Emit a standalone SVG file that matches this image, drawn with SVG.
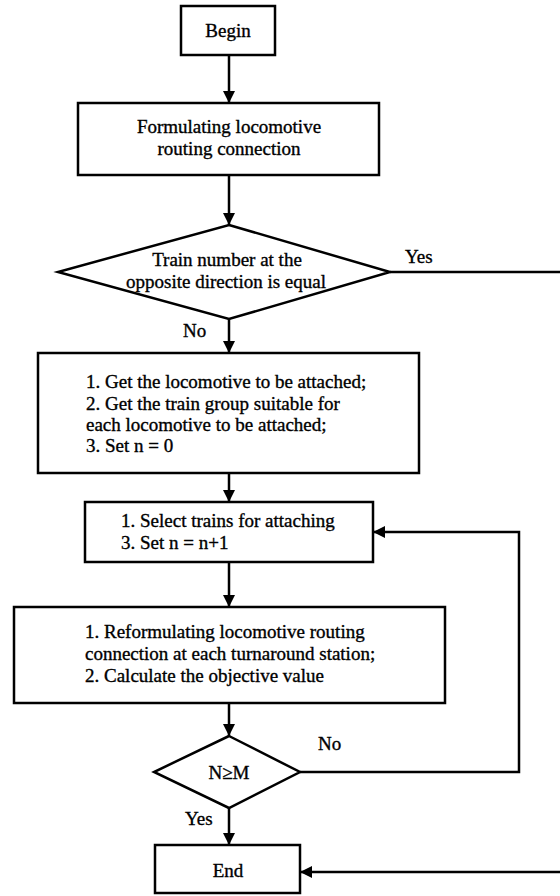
<svg xmlns="http://www.w3.org/2000/svg" width="560" height="896" viewBox="0 0 560 896">
<defs>
<marker id="ah" markerUnits="userSpaceOnUse" markerWidth="12" markerHeight="12" viewBox="0 0 12 12" refX="12" refY="6" orient="auto">
<path d="M0,0 L12,6 L0,12 Z" fill="#000"/>
</marker>
</defs>
<style>
.n{fill:#fff;stroke:#000;stroke-width:2.5}
.c{fill:none;stroke:#000;stroke-width:2.5}
.a{marker-end:url(#ah)}
text{font-family:"Liberation Serif","Times New Roman",serif;font-size:19px;fill:#000;stroke:#000;stroke-width:0.35}
.m{text-anchor:middle}
</style>
<rect width="560" height="896" fill="#fff"/>
<g id="connectors">
<line class="c a" x1="229" y1="55" x2="229" y2="103"/>
<line class="c a" x1="229" y1="175" x2="229" y2="225"/>
<line class="c a" x1="229" y1="319" x2="229" y2="353"/>
<line class="c a" x1="229" y1="473" x2="229" y2="502"/>
<line class="c a" x1="229" y1="562" x2="229" y2="607"/>
<line class="c a" x1="229" y1="703" x2="229" y2="736"/>
<line class="c a" x1="229" y1="808" x2="229" y2="845"/>
<polyline class="c" points="390,272 562,272"/>
<polyline class="c a" points="562,872 300,872"/>
<polyline class="c a" points="300,772 519,772 519,532 373,532"/>
<text x="405" y="263">Yes</text>
<text x="183" y="337">No</text>
<text x="318" y="750">No</text>
<text x="185" y="825">Yes</text>
</g>
<g id="begin">
<rect class="n" x="181" y="6" width="94" height="49"/>
<text class="m" x="228" y="37">Begin</text>
</g>
<g id="formulate">
<rect class="n" x="78" y="103" width="301" height="72"/>
<text class="m" x="229" y="133">Formulating locomotive</text>
<text class="m" x="229" y="155">routing connection</text>
</g>
<g id="decision1">
<polygon class="n" points="229,225 390,272 229,319 58,272"/>
<text class="m" x="227" y="266">Train number at the</text>
<text class="m" x="226" y="288">opposite direction is equal</text>
</g>
<g id="prepare">
<rect class="n" x="38" y="353" width="381" height="120"/>
<text x="86" y="388">1. Get the locomotive to be attached;</text>
<text x="86" y="410">2. Get the train group suitable for</text>
<text x="86" y="431">each locomotive to be attached;</text>
<text x="86" y="452">3. Set n = 0</text>
</g>
<g id="select">
<rect class="n" x="85" y="502" width="288" height="60"/>
<text x="121" y="527">1. Select trains for attaching</text>
<text x="121" y="549">3. Set n = n+1</text>
</g>
<g id="reformulate">
<rect class="n" x="14" y="607" width="431" height="96"/>
<text x="85" y="638">1. Reformulating locomotive routing</text>
<text x="85" y="660">connection at each turnaround station;</text>
<text x="85" y="682">2. Calculate the objective value</text>
</g>
<g id="decision2">
<polygon class="n" points="229,736 300,772 229,808 154,772"/>
<text class="m" x="229" y="779">N≥M</text>
</g>
<g id="end">
<rect class="n" x="155" y="845" width="145" height="48"/>
<text class="m" x="228" y="877">End</text>
</g>
</svg>
